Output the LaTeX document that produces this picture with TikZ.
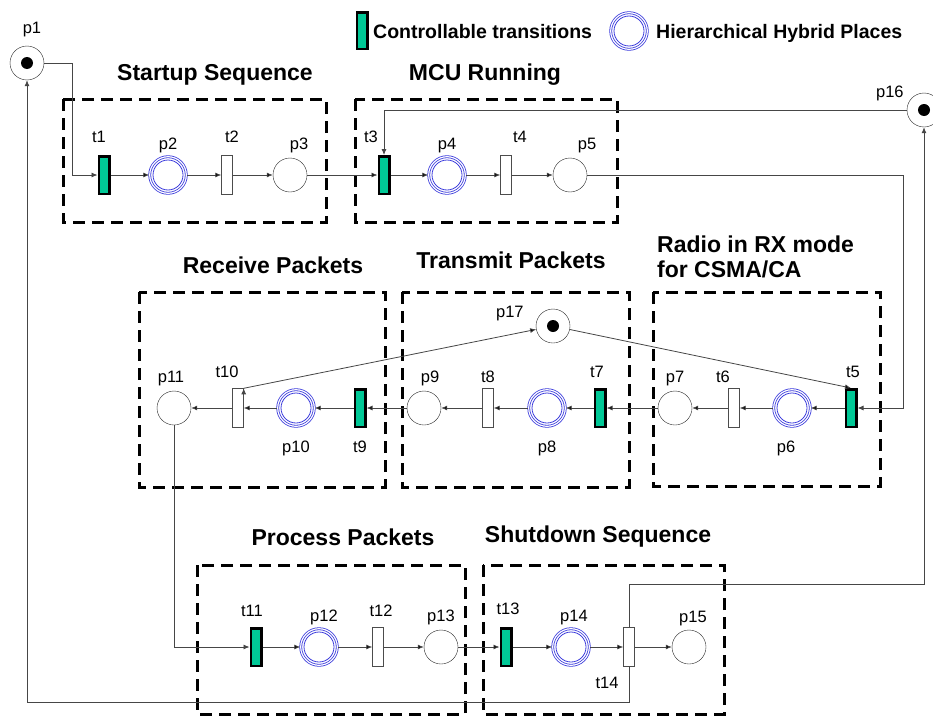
\documentclass[tikz,border=0pt]{standalone}
\usepackage{fontspec}
\setmainfont{Liberation Sans}
\usetikzlibrary{positioning}
\usetikzlibrary{arrows.meta}
\definecolor{ctrlgreen}{RGB}{0,200,150}
\definecolor{hierblue}{RGB}{60,60,220}
\definecolor{arcgray}{RGB}{70,70,70}

\begin{document}
\begin{tikzpicture}[x=1pt,y=-1pt,->,>={Latex[length=6pt,width=5pt]},node distance=61pt,
	place/.style={circle,draw=black!85,thin,inner sep=0pt,minimum size=34pt,fill=white},
	mplace/.style={place,path picture={\fill[black] (path picture bounding box.center) circle (6pt);}},
	hplace/.style={circle,draw=hierblue,line width=0.8pt,double=white,double distance=1.2pt,inner sep=0pt,minimum size=36.6pt,
		path picture={\draw[-,hierblue,line width=0.8pt] (path picture bounding box.center) circle (15pt);}},
	trans/.style={rectangle,draw=black!70,fill=white,thin,minimum width=11pt,minimum height=39pt,inner sep=0pt},
	ctrans/.style={rectangle,draw=black,fill=ctrlgreen,line width=2.5pt,minimum width=10.5pt,minimum height=37.5pt,inner sep=0pt},
	every label/.style={font=\fontsize{16.5}{18}\selectfont,inner sep=0pt,text=black},
	title/.style={font=\fontsize{23}{25}\selectfont\bfseries,inner sep=0pt},
	legend/.style={font=\fontsize{19.5}{22}\selectfont\bfseries,anchor=west,inner sep=0pt},
	grp/.style={draw,-,line width=3pt,dash pattern=on 12pt off 7pt},
	arc/.style={draw=arcgray,line width=0.8pt}]

	\useasboundingbox (0,0) rectangle (933,717);

	% sub-net boxes
	\draw[grp] (63,99) rectangle (326,222);
	\draw[grp] (355,99) rectangle (617,222);
	\draw[grp] (139,292) rectangle (385,487);
	\draw[grp] (402,292) rectangle (629,487);
	\draw[grp] (653,292) rectangle (880,486);
	\draw[grp] (197,565) rectangle (465,714);
	\draw[grp] (483,565) rectangle (724,714);

	\node[title] (ttlstart) at (215,75) {Startup Sequence};
	\node[title] (ttlmcu) at (485,75) {MCU Running};
	\node[title] (ttlrecv) at (273,265) {Receive Packets};
	\node[title] (ttltrans) at (511,260) {Transmit Packets};
	\node[title,align=left,anchor=west] (ttlradio) at (657,257) {Radio in RX mode\\for CSMA/CA};
	\node[title] (ttlproc) at (343,537) {Process Packets};
	\node[title] (ttlshut) at (598,537) {Shutdown Sequence};

	% legend
	\node[ctrans,minimum height=36.5pt] (lgtr) at (362,31) {};
	\node[legend] (lgtrtxt) at (373,32) {Controllable transitions};
	\node[hplace] (lgpl) at (629,31) {};
	\node[legend] (lgpltxt) at (656,33) {Hierarchical Hybrid Places};

	% top row
	\node[mplace,label={[label distance=9pt,xshift=5pt]above:p1}] (p1) at (27,63) {};
	\node[ctrans,label={[label distance=12pt,xshift=-5pt]above:t1}] (t1) at (104,175) {};
	\node[hplace,label={[label distance=3pt]above:p2}] (p2) [right of=t1,node distance=64pt] {};
	\node[trans,label={[label distance=12pt,xshift=5pt]above:t2}] (t2) [right of=p2,node distance=59pt] {};
	\node[place,label={[label distance=5pt,xshift=9pt]above:p3}] (p3) [right of=t2,node distance=63pt] {};
	\node[ctrans,label={[label distance=12pt,xshift=-13pt]above:t3}] (t3) at (384,175) {};
	\node[hplace,label={[label distance=3pt]above:p4}] (p4) [right of=t3,node distance=63pt] {};
	\node[trans,label={[label distance=12pt,xshift=14pt]above:t4}] (t4) [right of=p4,node distance=59pt] {};
	\node[place,label={[label distance=5pt,xshift=17pt]above:p5}] (p5) [right of=t4,node distance=64pt] {};
	\node[mplace,label={[xshift=-8pt,yshift=-3pt]above left:p16}] (p16) at (924,110) {};

	% middle row
	\node[ctrans,label={[label distance=10pt,xshift=2pt]above:t5}] (t5) at (851,408) {};
	\node[hplace,label={[label distance=14pt,xshift=-6pt]below:p6}] (p6) [left of=t5,node distance=59pt] {};
	\node[trans,label={[label distance=5pt,xshift=-11pt]above:t6}] (t6) [left of=p6,node distance=58pt] {};
	\node[place,label={[label distance=5pt]above:p7}] (p7) [left of=t6,node distance=59pt] {};
	\node[ctrans,label={[label distance=10pt,xshift=-3pt]above:t7}] (t7) at (600,408) {};
	\node[hplace,label={[label distance=14pt]below:p8}] (p8) [left of=t7,node distance=53pt] {};
	\node[trans,label={[label distance=5pt]above:t8}] (t8) [left of=p8,node distance=59pt] {};
	\node[place,label={[label distance=5pt,xshift=6pt]above:p9}] (p9) [left of=t8,node distance=64pt] {};
	\node[ctrans,label={[label distance=13pt]below:t9}] (t9) [left of=p9,node distance=64pt] {};
	\node[hplace,label={[label distance=14pt]below:p10}] (p10) [left of=t9,node distance=64pt] {};
	\node[trans,label={[label distance=10pt,xshift=-11pt]above:t10}] (t10) [left of=p10,node distance=58pt] {};
	\node[place,label={[label distance=5pt,xshift=-3pt]above:p11}] (p11) [left of=t10,node distance=64pt] {};
	\node[mplace,label={[xshift=-17pt,yshift=-7pt]above left:p17}] (p17) at (553,326) {};

	% bottom row
	\node[ctrans,label={[label distance=10pt,xshift=-4pt]above:t11}] (t11) at (256,647) {};
	\node[hplace,label={[label distance=3pt,xshift=5pt]above:p12}] (p12) [right of=t11,node distance=63pt] {};
	\node[trans,label={[label distance=10pt,xshift=3pt]above:t12}] (t12) [right of=p12,node distance=59pt] {};
	\node[place,label={[label distance=5pt]above:p13}] (p13) [right of=t12,node distance=63pt] {};
	\node[ctrans,label={[label distance=12pt,xshift=2pt]above:t13}] (t13) at (506,647) {};
	\node[hplace,label={[label distance=3pt,xshift=3pt]above:p14}] (p14) [right of=t13,node distance=65pt] {};
	\node[trans,label={[label distance=10pt,xshift=-22pt]below:t14}] (t14) [right of=p14,node distance=58pt] {};
	\node[place,label={[label distance=4pt,xshift=4pt]above:p15}] (p15) [right of=t14,node distance=60pt] {};

	\coordinate (c1) at (72,175);
	\coordinate (c2) at (903,300);
	\coordinate (c3) at (924,584);
	\coordinate (c4) at (27,702);

	\path[arc]
	(t1)	edge (p2)
	(p2)	edge (t2)
	(t2)	edge (p3)
	(p3)	edge (t3)
	(t3)	edge (p4)
	(p4)	edge (t4)
	(t4)	edge (p5)
	(t5)	edge (p6)
	(p6)	edge (t6)
	(t6)	edge (p7)
	(p7)	edge (t7)
	(t7)	edge (p8)
	(p8)	edge (t8)
	(t8)	edge (p9)
	(p9)	edge (t9)
	(t9)	edge (p10)
	(p10)	edge (t10)
	(t10)	edge (p11)
	(t10.north east)	edge (p17)
	(p17)	edge (t5.north)
	(t11)	edge (p12)
	(p12)	edge (t12)
	(t12)	edge (p13)
	(p13)	edge (t13)
	(t13)	edge (p14)
	(p14)	edge (t14)
	(t14)	edge (p15)
	;

	\draw[arc] (p1) -| (c1) -- (t1);
	\draw[arc] (p16) -| (t3);
	\draw[arc] (p5) -| (c2) |- (t5);
	\draw[arc] (p11) |- (t11);
	\draw[arc] (t14) |- (c3) -- (p16);
	\draw[arc] (t14) |- (c4) -- (p1);
\end{tikzpicture}
\end{document}
